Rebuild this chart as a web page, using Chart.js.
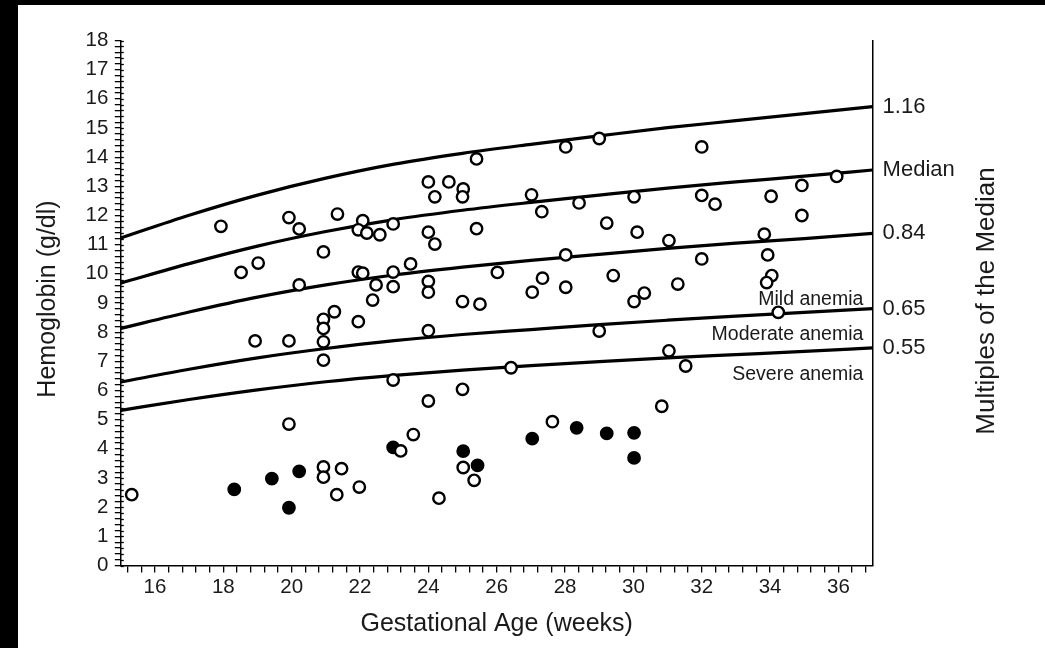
<!DOCTYPE html>
<html>
<head>
<meta charset="utf-8">
<title>Hemoglobin by gestational age</title>
<script src="https://cdn.jsdelivr.net/npm/chart.js@4.4.1/dist/chart.umd.min.js"></script>
<style>
  html, body { margin: 0; padding: 0; background: #000; }
  #wrap { position: absolute; left: 18px; top: 5px; width: 1027px; height: 643px; background: #fff; }
</style>
</head>
<body>
<div id="wrap"><canvas id="hbChart" width="1027" height="643"></canvas></div>
<script>
// reference curves (g/dl), read at every second week
const weeks = [15, 17, 19, 21, 23, 25, 27, 29, 31, 33, 35, 37];
const mom116 = [11.23, 12.01, 12.70, 13.28, 13.76, 14.13, 14.44, 14.73, 15.01, 15.25, 15.49, 15.73];
const median = [9.68, 10.35, 10.95, 11.45, 11.86, 12.18, 12.45, 12.70, 12.94, 13.15, 13.35, 13.56];
const mom084 = [8.13, 8.69, 9.20, 9.62, 9.96, 10.23, 10.46, 10.67, 10.87, 11.05, 11.21, 11.39];
const mom065 = [6.29, 6.73, 7.12, 7.44, 7.71, 7.92, 8.09, 8.26, 8.41, 8.55, 8.68, 8.81];
const mom055 = [5.32, 5.69, 6.02, 6.30, 6.52, 6.70, 6.85, 6.99, 7.12, 7.23, 7.34, 7.46];
const momLabels = ['1.16', 'Median', '0.84', '0.65', '0.55'];
const zoneLabels = ['Mild anemia', 'Moderate anemia', 'Severe anemia'];

// fetuses (open circles)
const openWeeks = [15.32, 17.93, 18.52, 19.02, 18.93, 19.92, 20.22, 20.22, 19.92, 19.92,
  20.93, 20.93, 20.93, 20.93, 20.93, 21.25, 20.93, 20.93, 21.46, 21.32,
  21.98, 21.34, 22.08, 21.95, 22.2, 22.58, 21.95, 22.08, 22.47, 22.37,
  21.95, 22.97, 22.97, 22.97, 22.97, 23.19, 23.56, 23.48, 24.0, 24.19,
  24.0, 24.19, 24.0, 24.0, 24.0, 24.0, 24.31, 24.6, 25.02, 25.0,
  25.0, 25.0, 25.02, 25.34, 25.41, 25.41, 25.51, 26.02, 26.42, 27.02,
  27.32, 27.34, 27.04, 27.63, 28.02, 28.41, 28.02, 28.02, 29.0, 29.22,
  29.41, 29.0, 30.02, 30.11, 30.02, 30.32, 30.83, 31.04, 31.3, 31.04,
  31.53, 32.0, 32.0, 32.39, 32.0, 33.83, 33.93, 34.05, 33.9, 34.03,
  34.24, 34.93, 34.93, 35.95];
const openHb = [2.43, 11.63, 10.05, 10.37, 7.70, 11.93, 11.54, 9.62, 7.70, 4.85,
  10.75, 8.44, 8.13, 7.67, 7.04, 8.70, 3.38, 3.03, 3.32, 2.43,
  2.69, 12.05, 11.82, 11.51, 11.4, 11.34, 10.06, 10.02, 9.62, 9.1,
  8.36, 11.71, 10.06, 9.56, 6.36, 3.93, 4.49, 10.34, 13.15, 12.64,
  11.43, 11.02, 9.74, 9.37, 8.05, 5.64, 2.31, 13.15, 12.91, 12.64,
  9.05, 6.04, 3.36, 2.92, 13.94, 11.55, 8.96, 10.05, 6.78, 12.71,
  12.13, 9.85, 9.37, 4.93, 14.35, 12.43, 10.65, 9.54, 14.64, 11.74,
  9.94, 8.04, 12.64, 11.43, 9.05, 9.34, 5.46, 11.14, 9.65, 7.36,
  6.84, 14.35, 12.69, 12.39, 10.51, 11.36, 10.65, 9.94, 9.7, 12.66,
  8.68, 13.03, 12.0, 13.34];

// fetuses (filled circles)
const filledWeeks = [18.32, 19.42, 20.22, 19.92, 22.97, 25.02, 25.44, 27.04, 28.34, 29.22, 30.02, 30.02];
const filledHb = [2.61, 2.98, 3.23, 1.98, 4.05, 3.92, 3.43, 4.35, 4.72, 4.53, 4.55, 3.69];

const xTickLabels = [16, 18, 20, 22, 24, 26, 28, 30, 32, 34, 36];

const FONT = '"Liberation Sans", Arial, sans-serif';
const INK = '#1a1a1a';
Chart.defaults.font.family = FONT;
Chart.defaults.color = INK;

function curve(vals) {
    return {
        type: 'line',
        data: weeks.map((w, i) => ({ x: w, y: vals[i] })),
        showLine: true,
        borderColor: '#000',
        borderWidth: 3.2,
        pointRadius: 0,
        tension: 0.4,
        cubicInterpolationMode: 'monotone',
        fill: false,
        order: 2
    };
}

const curves = [mom116, median, mom084, mom065, mom055];
const curveEnds = curves.map(c => c[c.length - 1]);

// tick marks cross the left axis a little
const innerTicks = {
    id: 'innerTicks',
    afterDraw(chart) {
        const { ctx, scales: { y } } = chart;
        ctx.save();
        ctx.strokeStyle = '#000';
        ctx.lineWidth = 1.3;
        y.ticks.forEach(t => {
            const py = Math.round(y.getPixelForValue(t.value)) + 0.5;
            ctx.beginPath();
            ctx.moveTo(y.right, py);
            ctx.lineTo(y.right + 3, py);
            ctx.stroke();
        });
        ctx.restore();
    }
};

const textLayer = {
    id: 'textLayer',
    afterDatasetsDraw(chart) {
        const { ctx, scales: { x, y } } = chart;
        ctx.save();
        ctx.fillStyle = INK;
        ctx.font = '19.5px ' + FONT;
        ctx.textAlign = 'right';
        ctx.textBaseline = 'middle';
        const zoneY = [9.13, 7.9, 6.53];
        zoneLabels.forEach((t, i) => {
            ctx.fillText(t, x.getPixelForValue(36.73), y.getPixelForValue(zoneY[i]));
        });

        // vertical axis titles (both read bottom to top)
        ctx.textAlign = 'center';
        ctx.font = '25px ' + FONT;
        ctx.translate(30, 294);
        ctx.rotate(-Math.PI / 2);
        ctx.fillText('Hemoglobin (g/dl)', 0, 0);
        ctx.restore();

        ctx.save();
        ctx.fillStyle = INK;
        ctx.font = '26px ' + FONT;
        ctx.textAlign = 'center';
        ctx.textBaseline = 'middle';
        ctx.translate(969, 296);
        ctx.rotate(-Math.PI / 2);
        ctx.fillText('Multiples of the Median', 0, 0);
        ctx.restore();
    }
};

const ctx = document.getElementById('hbChart').getContext('2d');
new Chart(ctx, {
    type: 'scatter',
    data: {
        datasets: [
            {
                data: openWeeks.map((w, i) => ({ x: w, y: openHb[i] })),
                pointRadius: 5.7,
                pointBorderWidth: 2.4,
                backgroundColor: '#fff',
                borderColor: '#000',
                order: 1
            },
            {
                data: filledWeeks.map((w, i) => ({ x: w, y: filledHb[i] })),
                pointRadius: 5.7,
                pointBorderWidth: 2.4,
                backgroundColor: '#000',
                borderColor: '#000',
                order: 1
            },
            ...curves.map(curve)
        ]
    },
    options: {
        responsive: false,
        animation: false,
        devicePixelRatio: 1,
        layout: { padding: { top: 35.5, left: 0, right: 0, bottom: 0 } },
        plugins: { legend: { display: false }, tooltip: { enabled: false } },
        scales: {
            x: {
                type: 'linear',
                min: 15,
                max: 37,
                afterFit: (scale) => { scale.height = 82.5; },
                afterBuildTicks: (scale) => {
                    const t = [];
                    for (let k = 38; k <= 92; k++) t.push({ value: k * 0.4 });
                    scale.ticks = t;
                },
                ticks: {
                    autoSkip: false,
                    maxRotation: 0,
                    padding: 3,
                    font: { size: 20.5 },
                    color: INK,
                    callback: (v) => {
                        const r = Math.round(v);
                        return (Math.abs(v - r) < 1e-6 && xTickLabels.includes(r)) ? String(r) : '';
                    }
                },
                grid: { drawOnChartArea: false, tickLength: 7, color: '#000', lineWidth: 1.3 },
                border: { color: '#000', width: 1.5 },
                title: {
                    display: true,
                    text: 'Gestational Age (weeks)',
                    font: { size: 25 },
                    color: INK,
                    padding: { top: 0, bottom: 9 }
                }
            },
            y: {
                min: 0,
                max: 18,
                afterFit: (scale) => { scale.width = 102.8; },
                afterBuildTicks: (scale) => {
                    const t = [];
                    for (let k = 0; k <= 90; k++) t.push({ value: k / 5 });
                    scale.ticks = t;
                },
                ticks: {
                    autoSkip: false,
                    padding: 6.5,
                    font: { size: 20.5 },
                    color: INK,
                    callback: (v) => (Math.abs(v - Math.round(v)) < 1e-6 ? String(Math.round(v)) : '')
                },
                grid: { drawOnChartArea: false, tickLength: 6, color: '#000', lineWidth: 1.3 },
                border: { color: '#000', width: 1.5 }
            },
            y2: {
                position: 'right',
                min: 0,
                max: 18,
                afterFit: (scale) => { scale.width = 172.4; },
                afterBuildTicks: (scale) => {
                    scale.ticks = curveEnds.map(v => ({ value: v }));
                },
                ticks: {
                    autoSkip: false,
                    padding: 10,
                    font: { size: 22 },
                    color: INK,
                    callback: (v, i) => momLabels[i]
                },
                grid: { drawOnChartArea: false, drawTicks: false },
                border: { color: '#000', width: 1.5 }
            }
        }
    },
    plugins: [innerTicks, textLayer]
});
</script>
</body>
</html>
